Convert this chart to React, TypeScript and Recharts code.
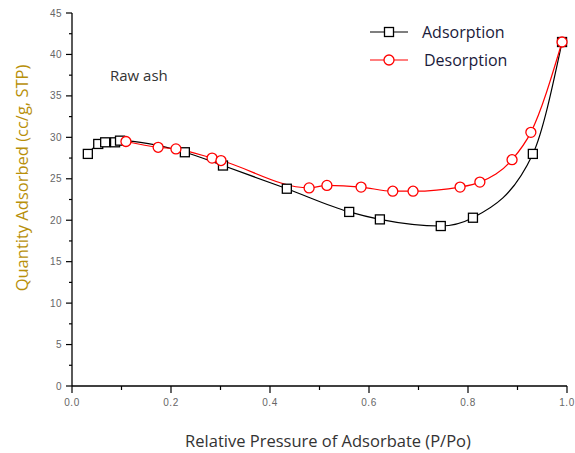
import { LineChart, Line, XAxis, YAxis } from 'recharts';

// adsorption branch (squares)
const adsX = [0.032, 0.053, 0.067, 0.087, 0.097, 0.228, 0.305, 0.434, 0.56, 0.622, 0.745, 0.81, 0.931, 0.99];
const adsY = [28.0, 29.2, 29.4, 29.4, 29.6, 28.2, 26.6, 23.8, 21.0, 20.1, 19.3, 20.3, 28.0, 41.5];

// desorption branch (circles)
const desX = [0.109, 0.174, 0.21, 0.283, 0.301, 0.479, 0.515, 0.584, 0.648, 0.689, 0.784, 0.824, 0.889, 0.927, 0.99];
const desY = [29.5, 28.8, 28.6, 27.5, 27.2, 23.9, 24.2, 24.0, 23.5, 23.5, 24.0, 24.6, 27.3, 30.6, 41.5];

const xTicks = [0, 0.1, 0.2, 0.3, 0.4, 0.5, 0.6, 0.7, 0.8, 0.9, 1.0];
const yTicks = [0, 2.5, 5, 7.5, 10, 12.5, 15, 17.5, 20, 22.5, 25, 27.5, 30, 32.5, 35, 37.5, 40, 42.5, 45];

const adsData = adsX.map((x, i) => ({ x, y: adsY[i] }));
const desData = desX.map((x, i) => ({ x, y: desY[i] }));

const FONT = '"Open Sans", Lato, sans-serif';

const Square = (props: any) => {
  const { cx, cy } = props;
  if (cx == null || cy == null) return null;
  return <rect x={cx - 4.5} y={cy - 4.5} width={9} height={9} fill="#fff" stroke="#000" strokeWidth={1.3} />;
};

const Circle = (props: any) => {
  const { cx, cy } = props;
  if (cx == null || cy == null) return null;
  return <circle cx={cx} cy={cy} r={5} fill="#fff" stroke="#ff0000" strokeWidth={1.3} />;
};

const XTick = ({ x, y, payload }: any) => {
  const v = payload.value;
  const major = Math.round(v * 10) % 2 === 0;
  return (
    <g>
      <line x1={x} x2={x} y1={y} y2={y + (major ? 7 : 4)} stroke="#000" strokeWidth={1.2} />
      {major && (
        <text x={x} y={y + 20} textAnchor="middle" fontSize={10} fill="#666" fontFamily="Arial, sans-serif" letterSpacing={0.5}>
          {v.toFixed(1)}
        </text>
      )}
    </g>
  );
};

const YTick = ({ x, y, payload }: any) => {
  const v = payload.value;
  const major = v % 5 === 0;
  return (
    <g>
      <line x1={x - (major ? 6 : 3)} x2={x} y1={y} y2={y} stroke="#000" strokeWidth={1.2} />
      {major && (
        <text x={x - 10} y={y + 3.5} textAnchor="end" fontSize={10} fill="#666" fontFamily="Arial, sans-serif" letterSpacing={0.5}>
          {v}
        </text>
      )}
    </g>
  );
};

export default function App() {
  return (
    <div style={{ position: 'absolute', left: 0, top: 0, width: 575, height: 453, background: '#fff', fontFamily: FONT }}>
      <LineChart width={575} height={453} margin={{ top: 13, right: 8, left: 32, bottom: 37 }}>
        <XAxis
          type="number"
          dataKey="x"
          domain={[0, 1]}
          ticks={xTicks}
          interval={0}
          tickSize={0}
          tickMargin={0}
          tickLine={false}
          tick={<XTick />}
          height={30}
          axisLine={{ stroke: '#000', strokeWidth: 1.3 }}
          allowDuplicatedCategory={false}
        />
        <YAxis
          type="number"
          dataKey="y"
          domain={[0, 45]}
          ticks={yTicks}
          interval={0}
          tickSize={0}
          tickMargin={0}
          tickLine={false}
          tick={<YTick />}
          width={40}
          axisLine={{ stroke: '#000', strokeWidth: 1.3 }}
        />
        <Line
          data={adsData}
          dataKey="y"
          type="monotone"
          stroke="#000"
          strokeWidth={1.2}
          dot={<Square />}
          activeDot={false}
          isAnimationActive={false}
        />
        <Line
          data={desData}
          dataKey="y"
          type="monotone"
          stroke="#ff0000"
          strokeWidth={1.2}
          dot={<Circle />}
          activeDot={false}
          isAnimationActive={false}
        />
      </LineChart>

      {/* legend */}
      <svg style={{ position: 'absolute', left: 365, top: 20 }} width={50} height={50}>
        <line x1={5} x2={43} y1={12} y2={12} stroke="#000" strokeWidth={1.2} />
        <rect x={19.5} y={7.5} width={9} height={9} fill="#fff" stroke="#000" strokeWidth={1.3} />
        <line x1={5} x2={43} y1={40} y2={40} stroke="#ff0000" strokeWidth={1.2} />
        <circle cx={24} cy={40} r={5} fill="#fff" stroke="#ff0000" strokeWidth={1.3} />
      </svg>
      <div style={{ position: 'absolute', left: 422, top: 21, fontSize: 16, color: '#1a1a3a', lineHeight: '22px' }}>
        Adsorption
      </div>
      <div style={{ position: 'absolute', left: 424, top: 49, fontSize: 16, color: '#1a1a3a', lineHeight: '22px' }}>
        Desorption
      </div>

      {/* annotation */}
      <div style={{ position: 'absolute', left: 110, top: 65, fontSize: 15, color: '#333', lineHeight: '20px' }}>
        Raw ash
      </div>

      {/* axis titles */}
      <div
        style={{
          position: 'absolute',
          left: 21,
          top: 178,
          transform: 'translate(-50%, -50%) rotate(-90deg)',
          whiteSpace: 'nowrap',
          fontSize: 16.5,
          color: '#b8900a',
        }}
      >
        Quantity Adsorbed (cc/g, STP)
      </div>
      <div
        style={{
          position: 'absolute',
          left: 328,
          top: 440,
          transform: 'translate(-50%, -50%)',
          whiteSpace: 'nowrap',
          fontSize: 16.5,
          color: '#333',
        }}
      >
        Relative Pressure of Adsorbate (P/Po)
      </div>
    </div>
  );
}
